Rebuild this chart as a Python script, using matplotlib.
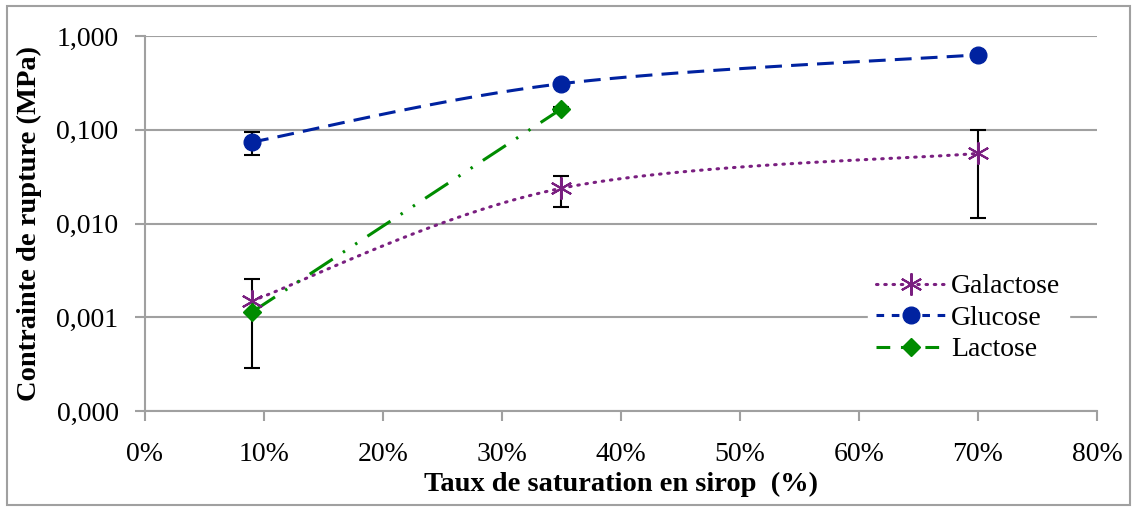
import matplotlib.pyplot as plt
from matplotlib.ticker import FuncFormatter, MultipleLocator, NullLocator
import numpy as np

# donnees
taux = [0.09, 0.35, 0.70]
galactose = [0.0015, 0.0238, 0.056]
galactose_bas = [0.00121, 0.0089, 0.0445]
galactose_haut = [0.00109, 0.0085, 0.044]
glucose = [0.074, 0.31, 0.63]
glucose_err = [0.020, 0.0, 0.0]
taux_lactose = [0.09, 0.35]
lactose = [0.00114, 0.167]
lactose_err = [0.0, 0.007]

y_ticks = [0.0001, 0.001, 0.01, 0.1, 1.0]

plt.rcParams['font.family'] = ['Liberation Serif', 'DejaVu Serif']


# lissage type Excel (Catmull-Rom en x lineaire / y log)
def lisse(x, y, n=40):
    px = np.array(x, dtype=float)
    py = np.log10(np.array(y, dtype=float))
    if len(px) < 3:
        return px, 10 ** py
    P = np.column_stack([px, py])
    P = np.vstack([P[0], P, P[-1]])
    xs, ys = [], []
    for i in range(1, len(P) - 2):
        p0, p1, p2, p3 = P[i - 1], P[i], P[i + 1], P[i + 2]
        t = np.linspace(0, 1, n)[:, None]
        c = 0.5 * ((2 * p1) + (-p0 + p2) * t + (2 * p0 - 5 * p1 + 4 * p2 - p3) * t ** 2
                   + (-p0 + 3 * p1 - 3 * p2 + p3) * t ** 3)
        xs.extend(c[:, 0])
        ys.extend(c[:, 1])
    return np.array(xs), 10 ** np.array(ys)


fig = plt.figure(figsize=(11.32, 5.07), dpi=100)
ax = fig.add_axes([0.128, 0.189, 0.841, 0.740])

c_gal = '#7a1f80'
c_glu = '#0022a0'
c_lac = '#008c00'

# barres d'erreur
ax.errorbar(taux, galactose, yerr=[galactose_bas, galactose_haut], fmt='none', ecolor='black',
            elinewidth=1.5, capsize=6, capthick=1.5, zorder=3)
ax.errorbar(taux, glucose, yerr=glucose_err, fmt='none', ecolor='black',
            elinewidth=1.5, capsize=6, capthick=1.5, zorder=3)
ax.errorbar(taux_lactose, lactose, yerr=lactose_err, fmt='none', ecolor='black',
            elinewidth=1.5, capsize=6, capthick=1.5, zorder=3)

# courbes lissees
xs, ys = lisse(taux, galactose)
ax.plot(xs, ys, color=c_gal, lw=2.2, linestyle=(0, (0.5, 2.2)), dash_capstyle='round', zorder=4)
xs, ys = lisse(taux, glucose)
ax.plot(xs, ys, color=c_glu, lw=2.2, linestyle=(0, (5.5, 3)), zorder=4)
xs, ys = lisse(taux_lactose, lactose)
ax.plot(xs, ys, color=c_lac, lw=2.2, linestyle=(0, (9, 4, 0.8, 4, 0.8, 4)), zorder=4)

# marqueurs
ax.plot(taux, galactose, linestyle='none', marker=(6, 2, 0), ms=16, mec=c_gal, mew=1.5, zorder=5)
ax.plot(taux, glucose, linestyle='none', marker='o', ms=12, color=c_glu, zorder=5)
ax.plot(taux_lactose, lactose, linestyle='none', marker='D', ms=9.5, color=c_lac, zorder=5)

# elements de legende
h_gal, = ax.plot([], [], color=c_gal, lw=2.2, linestyle=(0, (0.5, 2.2)), dash_capstyle='round',
                 marker=(6, 2, 0), ms=16, mec=c_gal, mew=1.5)
h_glu, = ax.plot([], [], color=c_glu, lw=2.2, linestyle=(0, (2.5, 2.5)), marker='o', ms=12)
h_lac, = ax.plot([], [], color=c_lac, lw=2.2, linestyle=(0, (4.5, 3.5)), marker='D', ms=9.5)
leg = ax.legend([h_gal, h_glu, h_lac], ['Galactose', 'Glucose', 'Lactose'],
                loc='center left', bbox_to_anchor=(0.745, 0.248), frameon=True,
                fontsize=20, handlelength=2.5, handletextpad=0.2, labelspacing=0.22,
                borderpad=0.3)
leg.get_frame().set_edgecolor('white')
leg.get_frame().set_facecolor('white')
leg.get_frame().set_alpha(1)
leg.set_zorder(6)

ax.set_yscale('log')
ax.set_ylim(0.0001, 1.0)
ax.set_yticks(y_ticks)
ax.yaxis.set_minor_locator(NullLocator())
ax.yaxis.set_major_formatter(FuncFormatter(lambda v, p: f"{v:.3f}".replace('.', ',')))
ax.set_xlim(0, 0.8)
ax.xaxis.set_major_locator(MultipleLocator(0.1))
ax.xaxis.set_major_formatter(FuncFormatter(lambda v, p: f"{v * 100:.0f}%"))

ax.grid(axis='y', color='#a0a0a0', lw=1.5)
ax.set_axisbelow(True)
for s in ['top', 'right']:
    ax.spines[s].set_visible(False)
for s in ['left', 'bottom']:
    ax.spines[s].set_color('#a0a0a0')
    ax.spines[s].set_linewidth(1.5)
ax.tick_params(axis='both', colors='#a0a0a0', width=1.5, length=7, labelsize=20,
               labelcolor='black')
ax.tick_params(axis='x', pad=15)
ax.tick_params(axis='y', pad=12)

ax.set_xlabel('Taux de saturation en sirop  (%)', fontsize=20.5, fontweight='bold', labelpad=4)
ax.set_ylabel('Contrainte de rupture (MPa)', fontsize=20.5, fontweight='bold', labelpad=10)

# cadre exterieur
fig.patches.append(plt.Rectangle((0.006, 0.004), 0.992, 0.984, transform=fig.transFigure,
                                 fill=False, edgecolor='#a0a0a0', lw=1.5))

fig.savefig('out.png', dpi=100)
